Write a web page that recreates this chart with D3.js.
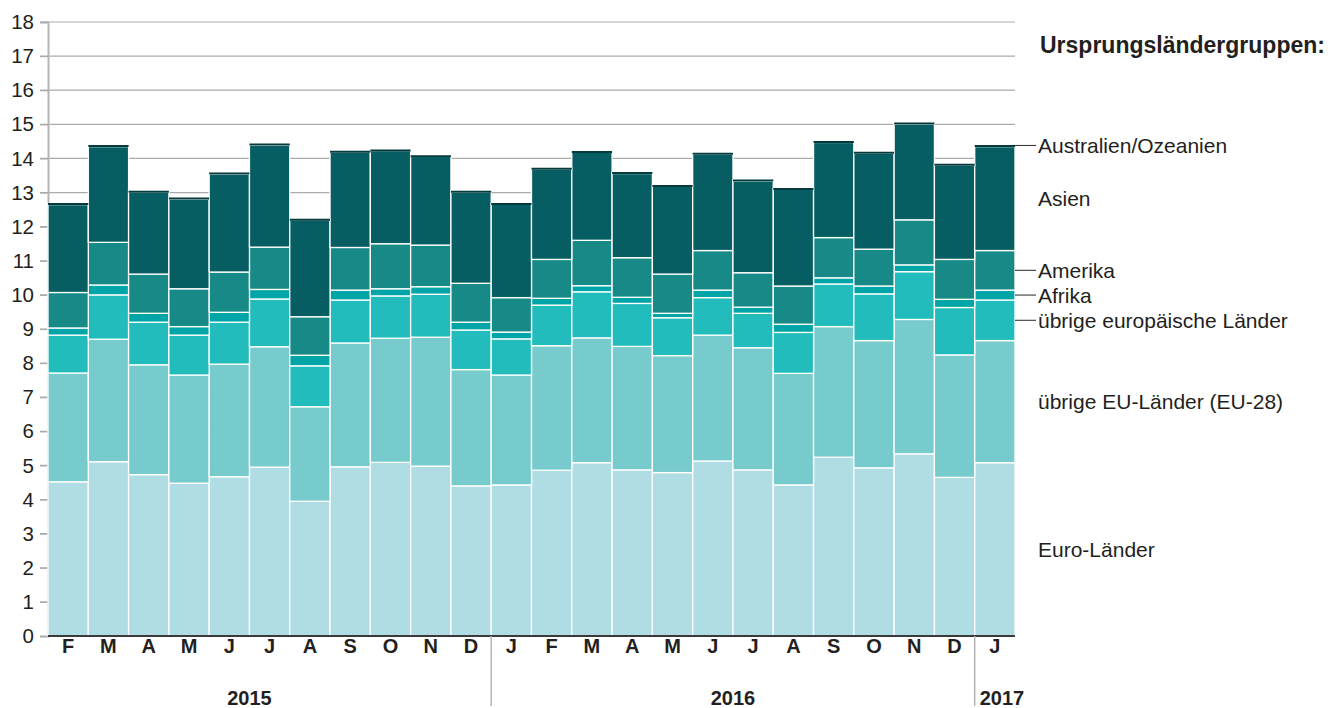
<!DOCTYPE html>
<html>
<head>
<meta charset="utf-8">
<script src="https://cdn.jsdelivr.net/npm/d3@7"></script>
<style>
  html, body { margin: 0; padding: 0; background: #fff; }
  svg { display: block; font-family: "Liberation Sans", Arial, Helvetica, sans-serif; }
</style>
</head>
<body>
<div id="chart"></div>
<script>
// Monthly values, Feb 2015 – Jan 2017
const MONTHS = ["F","M","A","M","J","J","A","S","O","N","D",
                "J","F","M","A","M","J","J","A","S","O","N","D","J"];

const euroLaender   = [4.52,5.11,4.73,4.48,4.67,4.95,3.95,4.96,5.09,4.98,4.40,
                       4.43,4.86,5.08,4.87,4.79,5.13,4.87,4.43,5.24,4.93,5.34,4.65,5.08];
const uebrigeEU     = [3.19,3.59,3.22,3.17,3.30,3.53,2.77,3.63,3.64,3.78,3.41,
                       3.22,3.65,3.66,3.62,3.43,3.69,3.58,3.27,3.83,3.73,3.94,3.59,3.58];
const uebrigeEuropa = [1.11,1.30,1.25,1.17,1.23,1.40,1.20,1.26,1.24,1.26,1.16,
                       1.06,1.19,1.35,1.26,1.11,1.10,1.01,1.20,1.25,1.37,1.40,1.39,1.19];
const afrika        = [0.21,0.29,0.26,0.25,0.29,0.28,0.31,0.29,0.21,0.22,0.23,
                       0.20,0.20,0.18,0.18,0.13,0.22,0.18,0.24,0.18,0.23,0.20,0.24,0.29];
const amerika       = [1.04,1.25,1.15,1.11,1.18,1.24,1.13,1.25,1.32,1.22,1.14,
                       1.01,1.14,1.33,1.16,1.15,1.16,1.01,1.12,1.18,1.08,1.32,1.17,1.16];
const asien         = [2.58,2.81,2.40,2.63,2.87,2.99,2.84,2.80,2.73,2.60,2.67,
                       2.74,2.65,2.58,2.47,2.58,2.82,2.69,2.84,2.79,2.81,2.81,2.76,3.05];
const australien    = [0.03,0.03,0.03,0.03,0.03,0.03,0.02,0.02,0.02,0.02,0.03,
                       0.02,0.02,0.02,0.03,0.02,0.03,0.03,0.02,0.03,0.03,0.03,0.03,0.03];

const YEARS = [
  { label: "2015", first: 0, last: 10, span: 12 },
  { label: "2016", first: 11, last: 22, span: 12 },
  { label: "2017", first: 23, last: 23, span: 1 },
];

const SERIES = [
  { key: "euro", label: "Euro-Länder", values: euroLaender, color: "#b0dde3", line: false },
  { key: "eu", label: "übrige EU-Länder (EU-28)", values: uebrigeEU, color: "#78cbcd", line: false },
  { key: "eur", label: "übrige europäische Länder", values: uebrigeEuropa, color: "#22bcbd", line: true },
  { key: "afr", label: "Afrika", values: afrika, color: "#00a6a7", line: true },
  { key: "ame", label: "Amerika", values: amerika, color: "#178a88", line: true },
  { key: "asi", label: "Asien", values: asien, color: "#065e63", line: false },
  { key: "aus", label: "Australien/Ozeanien", values: australien, color: "#033a3d", line: true },
];

const W = 1336, H = 708;
const plotLeft = 48, plotRight = 1015, plotTop = 22, plotBottom = 636;

const svg = d3.select("#chart").append("svg")
  .attr("width", W).attr("height", H);

const rows = MONTHS.map((m, i) => {
  const r = { i };
  SERIES.forEach((s) => (r[s.key] = s.values[i]));
  return r;
});

const stack = d3.stack().keys(SERIES.map((s) => s.key));
const stacked = stack(rows);

const x = d3.scaleBand().domain(d3.range(MONTHS.length)).range([plotLeft, plotRight]).padding(0);
const y = d3.scaleLinear().domain([0, 18]).range([plotBottom, plotTop]);

// grid
svg.append("g")
  .selectAll("line")
  .data(y.ticks(18).filter((t) => t > 0))
  .join("line")
  .attr("x1", plotLeft - 8).attr("x2", plotRight)
  .attr("y1", (d) => y(d)).attr("y2", (d) => y(d))
  .attr("stroke", "#ababab").attr("stroke-width", 1.2);

// y axis
const yAxis = svg.append("g")
  .attr("transform", `translate(${plotLeft},0)`)
  .call(d3.axisLeft(y).ticks(18).tickSize(8).tickPadding(6));
yAxis.select(".domain").attr("stroke", "#b5b5b5").attr("stroke-width", 2);
yAxis.selectAll(".tick line").attr("stroke", "#ababab").attr("stroke-width", 1.2);
yAxis.selectAll(".tick text")
  .attr("font-size", 20.5).attr("fill", "#231f20")
  .attr("font-family", "Liberation Sans, Arial, sans-serif");

// bars
const layer = svg.append("g")
  .selectAll("g")
  .data(stacked)
  .join("g")
  .attr("fill", (d, i) => SERIES[i].color);

layer.selectAll("rect")
  .data((d) => d)
  .join("rect")
  .attr("x", (d) => x(d.data.i))
  .attr("width", x.bandwidth())
  .attr("y", (d) => y(d[1]))
  .attr("height", (d) => y(d[0]) - y(d[1]))
  .attr("stroke", "#ffffff")
  .attr("stroke-width", 1.3);

// top dark edge (Australien/Ozeanien)
svg.append("g")
  .selectAll("line")
  .data(stacked[stacked.length - 1])
  .join("line")
  .attr("x1", (d) => x(d.data.i))
  .attr("x2", (d) => x(d.data.i) + x.bandwidth())
  .attr("y1", (d) => y(d[1]) + 0.5)
  .attr("y2", (d) => y(d[1]) + 0.5)
  .attr("stroke", "#033a3d").attr("stroke-width", 2);

// baseline
svg.append("line")
  .attr("x1", plotLeft).attr("x2", plotRight)
  .attr("y1", y(0)).attr("y2", y(0))
  .attr("stroke", "#3a3a3a").attr("stroke-width", 2.2);

// month labels
svg.append("g")
  .selectAll("text")
  .data(MONTHS)
  .join("text")
  .attr("x", (d, i) => x(i) + x.bandwidth() / 2)
  .attr("y", 653)
  .attr("text-anchor", "middle")
  .attr("font-size", 20).attr("font-weight", "bold").attr("fill", "#231f20")
  .text((d) => d);

// year separators and labels
const bw = x.bandwidth();
svg.append("g")
  .selectAll("line")
  .data(YEARS.slice(1))
  .join("line")
  .attr("x1", (d) => x(d.first)).attr("x2", (d) => x(d.first))
  .attr("y1", y(0)).attr("y2", 706)
  .attr("stroke", "#b5b5b5").attr("stroke-width", 1.5);

svg.append("g")
  .selectAll("text")
  .data(YEARS)
  .join("text")
  .attr("x", (d) => {
    if (d.span === 1) return x(d.first) + 5;
    const end = x(d.last) + bw;
    return end - (d.span * bw) / 2;
  })
  .attr("y", 705)
  .attr("text-anchor", (d) => (d.span === 1 ? "start" : "middle"))
  .attr("font-size", 20).attr("font-weight", "bold").attr("fill", "#231f20")
  .text((d) => d.label);

// legend on the right, aligned with the last bar
const last = MONTHS.length - 1;
const legendX = 1038;

svg.append("text")
  .attr("x", 1040).attr("y", 53)
  .attr("font-size", 23).attr("font-weight", "bold").attr("fill", "#231f20")
  .text("Ursprungsländergruppen:");

const leg = svg.append("g");
stacked.forEach((s, i) => {
  const d = s[last];
  const info = SERIES[i];
  const ly = info.key === "aus" ? y(d[1]) : y((d[0] + d[1]) / 2);
  if (info.line) {
    leg.append("line")
      .attr("x1", plotRight).attr("x2", legendX - 2)
      .attr("y1", ly).attr("y2", ly)
      .attr("stroke", "#3a3a3a").attr("stroke-width", 1.1);
  }
  leg.append("text")
    .attr("x", legendX).attr("y", ly)
    .attr("dy", "0.36em")
    .attr("font-size", 21).attr("fill", "#231f20")
    .text(info.label);
});
</script>
</body>
</html>
